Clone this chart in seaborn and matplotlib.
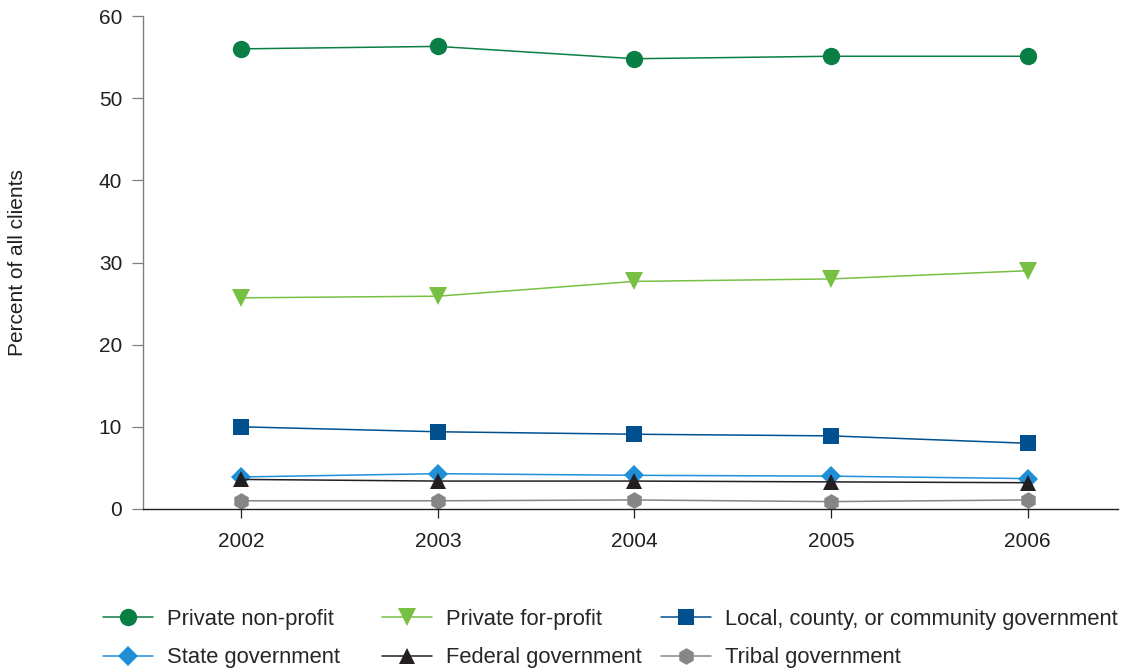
import matplotlib
matplotlib.use("Agg")
import matplotlib.pyplot as plt
import pandas as pd
import seaborn as sns

years = [2002, 2003, 2004, 2005, 2006]
private_nonprofit = [56.0, 56.3, 54.8, 55.1, 55.1]
private_forprofit = [25.7, 25.9, 27.7, 28.0, 29.0]
local_gov = [10.0, 9.4, 9.1, 8.9, 8.0]
state_gov = [3.9, 4.3, 4.1, 4.0, 3.7]
federal_gov = [3.6, 3.4, 3.4, 3.3, 3.2]
tribal_gov = [1.0, 1.0, 1.1, 0.9, 1.1]

series = {
    "Private non-profit": private_nonprofit,
    "Private for-profit": private_forprofit,
    "Local, county, or community government": local_gov,
    "State government": state_gov,
    "Federal government": federal_gov,
    "Tribal government": tribal_gov,
}
colors = {
    "Private non-profit": "#0a7f45",
    "Private for-profit": "#77c043",
    "Local, county, or community government": "#00508f",
    "State government": "#1f8fd8",
    "Federal government": "#231f20",
    "Tribal government": "#868686",
}
markers = {
    "Private non-profit": "o",
    "Private for-profit": "v",
    "Local, county, or community government": "s",
    "State government": "D",
    "Federal government": "^",
    "Tribal government": "h",
}
sizes = {"o": 12.5, "v": 12.5, "s": 11.5, "D": 10, "^": 11.5, "h": 12}

rows = []
for name, vals in series.items():
    for y, v in zip(years, vals):
        rows.append({"year": y, "value": v, "sector": name})
df = pd.DataFrame(rows)

sns.set_style("white")
plt.rcParams["font.family"] = ["Liberation Sans", "DejaVu Sans"]

fig = plt.figure(figsize=(11.25, 6.68), dpi=100)
ax = fig.add_axes([143 / 1125, 1 - 509 / 668, 975 / 1125, 493 / 668])

for name in series:
    sub = df[df["sector"] == name]
    m = markers[name]
    sns.lineplot(data=sub, x="year", y="value", ax=ax, color=colors[name],
                 marker=m, markersize=sizes[m], markeredgewidth=0,
                 linewidth=1.1, label=name)

ax.set_xlim(2001.5, 2006.46)
ax.set_ylim(0, 60)
ax.set_xticks(years)
ax.set_yticks(range(0, 61, 10))
ax.set_xlabel("")
ax.set_ylabel("")
fig.text(18 / 1125, 1 - 262.5 / 668, "Percent of all clients", fontsize=15,
         color="#231f20", rotation=90, ha="center", va="center")
ax.tick_params(axis="both", labelsize=15, direction="out",
               width=0.9, labelcolor="#231f20", left=True, bottom=True)
ax.tick_params(axis="y", length=8, pad=7, color="#7f7f7f")
ax.tick_params(axis="x", length=6.5, pad=10, color="#231f20")
for s in ["top", "right"]:
    ax.spines[s].set_visible(False)
ax.spines["left"].set_color("#7f7f7f")
ax.spines["bottom"].set_color("#231f20")
ax.spines["left"].set_linewidth(1.0)
ax.spines["bottom"].set_linewidth(1.0)
ax.grid(False)

# legend: three fixed columns, two rows, like the reference
handles, labels = ax.get_legend_handles_labels()
ax.get_legend().remove()
col_x = [103, 382, 661]
for c, (i, j) in enumerate([(0, 3), (1, 4), (2, 5)]):
    fig.legend([handles[i], handles[j]], [labels[i], labels[j]],
               loc="upper left", bbox_to_anchor=(col_x[c] / 1125, 1 - 608.5 / 668),
               ncol=1, frameon=False, fontsize=15.8, handlelength=2.3,
               labelspacing=0.82, handletextpad=0.6,
               borderpad=0, borderaxespad=0)

fig.savefig("out.png", dpi=100)
